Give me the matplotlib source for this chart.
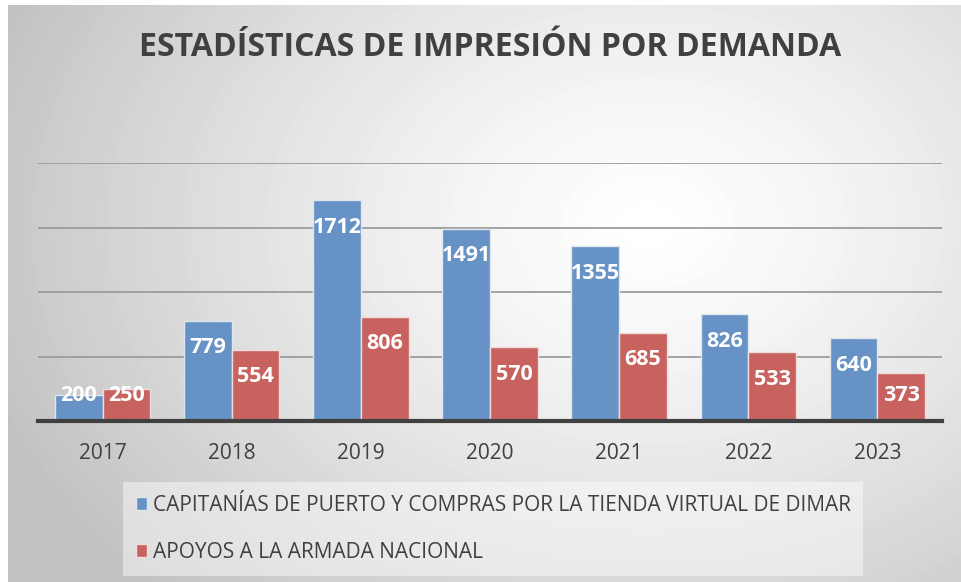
import numpy as np
import matplotlib
matplotlib.use("Agg")
import matplotlib.pyplot as plt

years = ["2017", "2018", "2019", "2020", "2021", "2022", "2023"]
capitanias = [200, 779, 1712, 1491, 1355, 826, 640]
armada = [250, 554, 806, 570, 685, 533, 373]
series_names = ["CAPITANÍAS DE PUERTO Y COMPRAS POR LA TIENDA VIRTUAL DE DIMAR",
                "APOYOS A LA ARMADA NACIONAL"]
title = "ESTADÍSTICAS DE IMPRESIÓN POR DEMANDA"

plt.rcParams['font.family'] = ['Open Sans', 'DejaVu Sans']

W, H = 961, 582
fig = plt.figure(figsize=(W / 100, H / 100), dpi=100)
fig.patch.set_facecolor("white")

# radial gradient background of the chart frame
bg = fig.add_axes([8 / W, 0, 1 - 8 / W, 1 - 5 / H], zorder=-10)
yy, xx = np.mgrid[0:577, 0:953]
cx, cy = 640, 220
r = np.sqrt(((xx - cx) / 700.0) ** 2 + ((yy - cy) / 520.0) ** 2)
r = np.clip(r, 0, 1)
shade = 1.0 - 0.24 * r ** 1.3
bg.imshow(shade, cmap="gray", vmin=0, vmax=1, aspect="auto", interpolation="bilinear")
bg.axis("off")

ax = fig.add_axes([38 / W, 1 - 421 / H, 904 / W, 258 / H])
ax.set_facecolor("none")
x = np.arange(len(years))
bw = 0.37
blue = "#6692c6"
red = "#c8625f"
b1 = ax.bar(x - bw / 2, capitanias, bw, color=blue, edgecolor="#dfe6f0", linewidth=1, zorder=3,
            label=series_names[0])
b2 = ax.bar(x + bw / 2, armada, bw, color=red, edgecolor="#efdcdc", linewidth=1, zorder=3,
            label=series_names[1])

ax.set_xlim(-0.5, len(years) - 0.5)
ax.set_ylim(0, 2000)
ax.set_yticks([500, 1000, 1500, 2000])
ax.yaxis.grid(True, color="#9c9c9c", linewidth=1.3, zorder=1)
ax.tick_params(axis="y", left=False, labelleft=False)
ax.set_xticks(x)
ax.set_xticklabels(years, fontsize=15, color="#404040")
ax.tick_params(axis="x", length=0, pad=16)
for s in ["top", "right", "left"]:
    ax.spines[s].set_visible(False)
ax.spines["bottom"].set_color("#404040")
ax.spines["bottom"].set_linewidth(3)
ax.spines["bottom"].set_zorder(4)

for bars, vals in [(b1, capitanias), (b2, armada)]:
    for rect, v in zip(bars, vals):
        ly = max(v - 209, 200)
        ax.text(rect.get_x() + rect.get_width() / 2, ly, str(v), ha="center", va="center",
                color="white", fontsize=15.5, fontweight="bold", zorder=5)

fig.text(490 / W, 1 - 47 / H, title, ha="center", va="center", fontsize=23,
         fontweight="bold", color="#404040")

leg = fig.legend(loc="upper left", bbox_to_anchor=(123 / W, 1 - 482 / H), ncol=1,
                 fontsize=15, frameon=True, fancybox=False, handlelength=0.55,
                 handleheight=0.6, handletextpad=0.25, labelspacing=1.25,
                 borderpad=0.62, borderaxespad=0, labelcolor="#404040")
leg.get_frame().set_facecolor("white")
leg.get_frame().set_alpha(0.45)
leg.get_frame().set_edgecolor("none")

fig.savefig("out.png", dpi=100)
